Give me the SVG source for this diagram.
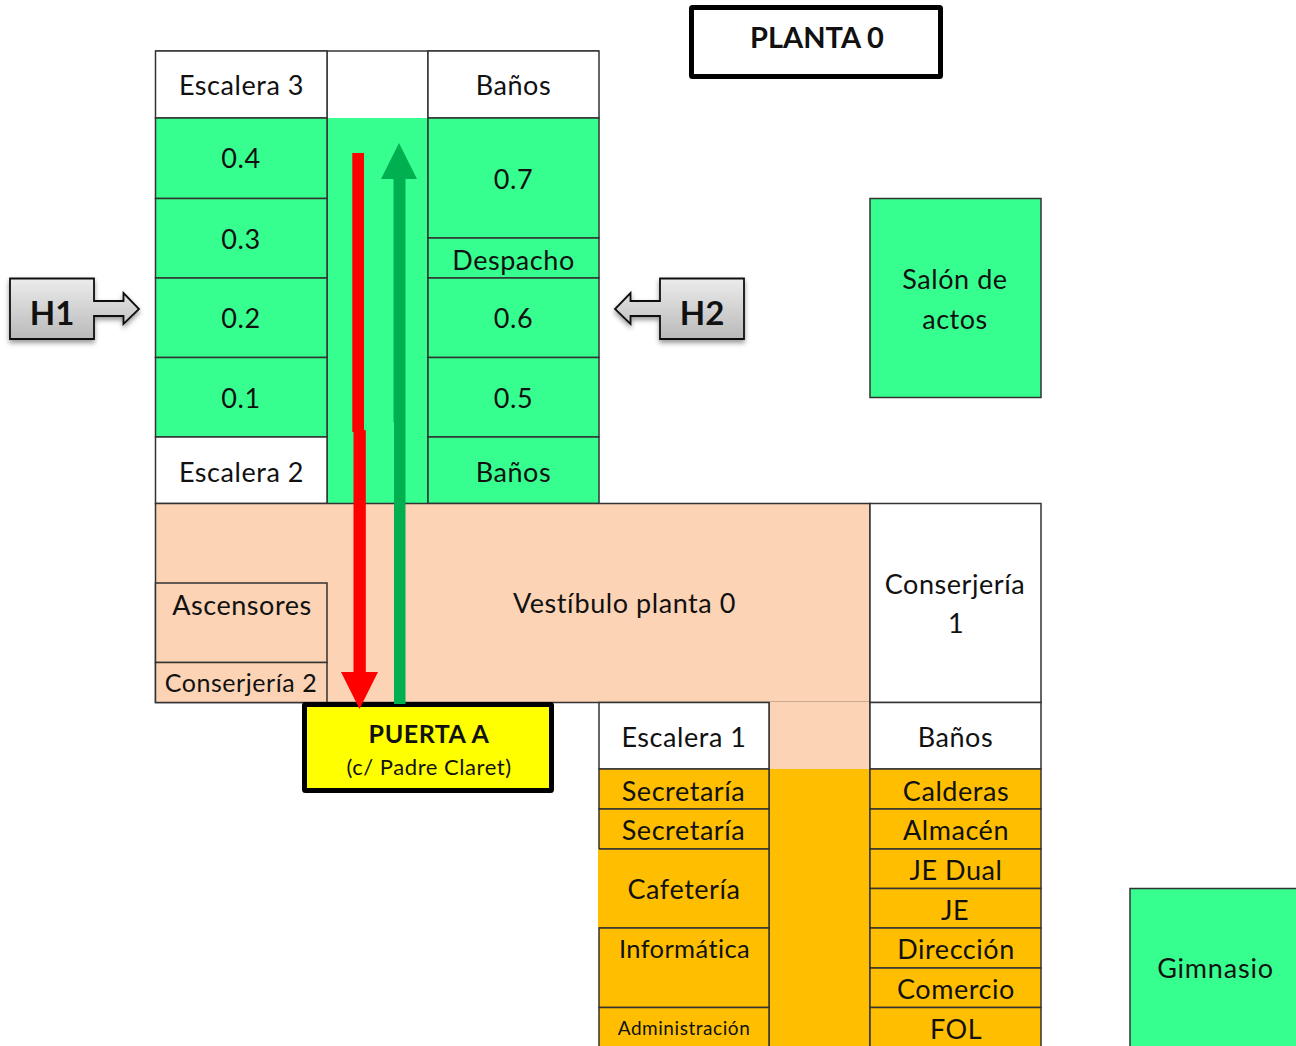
<svg xmlns="http://www.w3.org/2000/svg" width="1296" height="1046" viewBox="0 0 1296 1046">
<style>
text{font-family:"Lato","Liberation Sans",sans-serif;font-size:27px;fill:#111;text-anchor:middle;letter-spacing:.55px}
.c{stroke:#333;stroke-width:1.5}
.g{fill:#37ff8f}.w{fill:#fff}.p{fill:#fcd3b4}.o{fill:#ffbf00}
.b{font-weight:700}
</style>
<defs>
<linearGradient id="grey" x1="0" y1="0" x2="0" y2="1"><stop offset="0" stop-color="#ececec"/><stop offset="1" stop-color="#b9b9b9"/></linearGradient>
<filter id="sh" x="-20%" y="-20%" width="140%" height="150%"><feDropShadow dx="0" dy="3" stdDeviation="2.5" flood-color="#000" flood-opacity=".4"/></filter>
</defs>
<rect width="1296" height="1046" fill="#fff"/>
<g id="pasillos">
<rect class="g" x="327" y="118" width="101" height="385"/>
<rect class="w" x="327" y="51" width="101" height="67"/>
<path d="M155.500 51H599" stroke="#333" stroke-width="1.500" fill="none"/>
<path d="M327 51V503M428 51V503" stroke="#333" stroke-width="1.500" fill="none"/>
</g>
<g id="escalera3"><rect class="c w" x="155.500" y="51" width="171.500" height="67"/><text x="241.500" y="95">Escalera 3</text></g>
<g id="banos-n"><rect class="c w" x="428" y="51" width="171" height="67"/><text x="513.500" y="95">Baños</text></g>
<g id="a04"><rect class="c g" x="155.500" y="118" width="171.500" height="80.500"/><text x="241" y="168">0.4</text></g>
<g id="a03"><rect class="c g" x="155.500" y="198.500" width="171.500" height="79.500"/><text x="241" y="249">0.3</text></g>
<g id="a02"><rect class="c g" x="155.500" y="278" width="171.500" height="79.500"/><text x="241" y="328">0.2</text></g>
<g id="a01"><rect class="c g" x="155.500" y="357.500" width="171.500" height="79.500"/><text x="241" y="408">0.1</text></g>
<g id="escalera2"><rect class="c w" x="155.500" y="437" width="171.500" height="66.500"/><text x="241.500" y="482">Escalera 2</text></g>
<g id="a07"><rect class="c g" x="428" y="118" width="171" height="120"/><text x="513.500" y="189">0.7</text></g>
<g id="despacho"><rect class="c g" x="428" y="238" width="171" height="40"/><text x="513.500" y="270">Despacho</text></g>
<g id="a06"><rect class="c g" x="428" y="278" width="171" height="79.500"/><text x="513.500" y="328">0.6</text></g>
<g id="a05"><rect class="c g" x="428" y="357.500" width="171" height="79.500"/><text x="513.500" y="408">0.5</text></g>
<g id="banos-s"><rect class="c g" x="428" y="437" width="171" height="66.500"/><text x="513.500" y="482">Baños</text></g>
<g id="salon"><rect class="c g" x="870" y="198.500" width="171" height="199"/><text x="955" y="289">Salón de</text><text x="955" y="329">actos</text></g>
<g id="vestibulo"><rect class="c p" x="155.500" y="503.500" width="714.500" height="199"/><text x="624.500" y="613">Vestíbulo planta 0</text></g>
<g id="ascensores"><rect class="c p" x="155.500" y="583" width="171.500" height="79.500"/><text x="242" y="615">Ascensores</text></g>
<g id="conserjeria2"><rect class="c p" x="155.500" y="662.500" width="171.500" height="40"/><text x="241" y="692" style="font-size:25px">Conserjería 2</text></g>
<g id="conserjeria1"><rect class="c w" x="870" y="503.500" width="171" height="199"/><text x="955" y="594">Conserjería</text><text x="956" y="633">1</text></g>
<g id="pasillo-sur">
<rect class="p" x="769" y="702" width="101" height="67"/>
<rect class="o" x="769" y="769" width="101" height="277"/>
<path d="M769 702V1046M870 702V1046" stroke="#333" stroke-width="1.500" fill="none"/>
</g>
<g id="escalera1"><rect class="c w" x="599" y="702.500" width="170" height="66.500"/><text x="684" y="747">Escalera 1</text></g>
<g id="secretaria1"><rect class="c o" x="599" y="769" width="170" height="40"/><text x="683.500" y="801">Secretaría</text></g>
<g id="secretaria2"><rect class="c o" x="599" y="809" width="170" height="40"/><text x="683.500" y="840">Secretaría</text></g>
<g id="cafeteria"><rect class="o" x="598" y="849" width="171" height="79"/><path d="M599 849H769V928H599" stroke="#333" stroke-width="1.500" fill="none"/><text x="684" y="899">Cafetería</text></g>
<g id="informatica"><rect class="c o" x="599" y="928" width="170" height="79.500"/><text x="684.500" y="958" style="font-size:25.500px;letter-spacing:.4px">Informática</text></g>
<g id="administracion"><rect class="c o" x="599" y="1007.500" width="170" height="50"/><text x="684" y="1035" style="font-size:19px">Administración</text></g>
<g id="banos-e"><rect class="c w" x="870" y="702.500" width="171" height="66.500"/><text x="955.500" y="747">Baños</text></g>
<g id="calderas"><rect class="c o" x="870" y="769" width="171" height="40"/><text x="956" y="801">Calderas</text></g>
<g id="almacen"><rect class="c o" x="870" y="809" width="171" height="40"/><text x="956" y="840">Almacén</text></g>
<g id="jedual"><rect class="c o" x="870" y="849" width="171" height="39.500"/><text x="956" y="880">JE Dual</text></g>
<g id="je"><rect class="c o" x="870" y="888.500" width="171" height="39.500"/><text x="955" y="920">JE</text></g>
<g id="direccion"><rect class="c o" x="870" y="928" width="171" height="40"/><text x="956" y="959">Dirección</text></g>
<g id="comercio"><rect class="c o" x="870" y="968" width="171" height="39.500"/><text x="956" y="999">Comercio</text></g>
<g id="fol"><rect class="c o" x="870" y="1007.500" width="171" height="50"/><text x="956" y="1039">FOL</text></g>
<g id="gimnasio"><rect class="c g" x="1130" y="888.500" width="180" height="170"/><text x="1215.500" y="978" style="letter-spacing:.8px">Gimnasio</text></g>
<g id="planta"><rect x="691.500" y="7.500" width="249" height="69" fill="#fff" stroke="#000" stroke-width="5" rx="1"/><text class="b" x="817" y="48" style="font-size:29px;letter-spacing:0">PLANTA 0</text></g>
<g id="puerta"><rect x="304.500" y="704.500" width="247" height="86" fill="#ff0" stroke="#000" stroke-width="5" rx="1"/><text class="b" x="429" y="743" style="font-size:25px">PUERTA A</text><text x="429" y="775" style="font-size:22px">(c/ Padre Claret)</text></g>
<g id="connectors">
<path fill="#f00" d="M352.300 153H364V430H365.800V672H378L359.500 709L341 672H353.500V432H352.300Z"/>
<path fill="#00b050" d="M399 143L417 179H405.500V704H394V422H393.500V179H381Z"/>
</g>
<g id="h1"><path filter="url(#sh)" d="M10 278.500H94V301H123.500V293L139 309L123.500 324V316H94V339H10Z" fill="url(#grey)" stroke="#111" stroke-width="1.800"/><text class="b" x="52" y="325" style="font-size:33px;letter-spacing:0">H1</text></g>
<g id="h2"><path filter="url(#sh)" d="M744 278.500H660V301H630.500V293L615 309L630.500 324V316H660V339H744Z" fill="url(#grey)" stroke="#111" stroke-width="1.800"/><text class="b" x="702" y="325" style="font-size:33px;letter-spacing:0">H2</text></g>
</svg>
